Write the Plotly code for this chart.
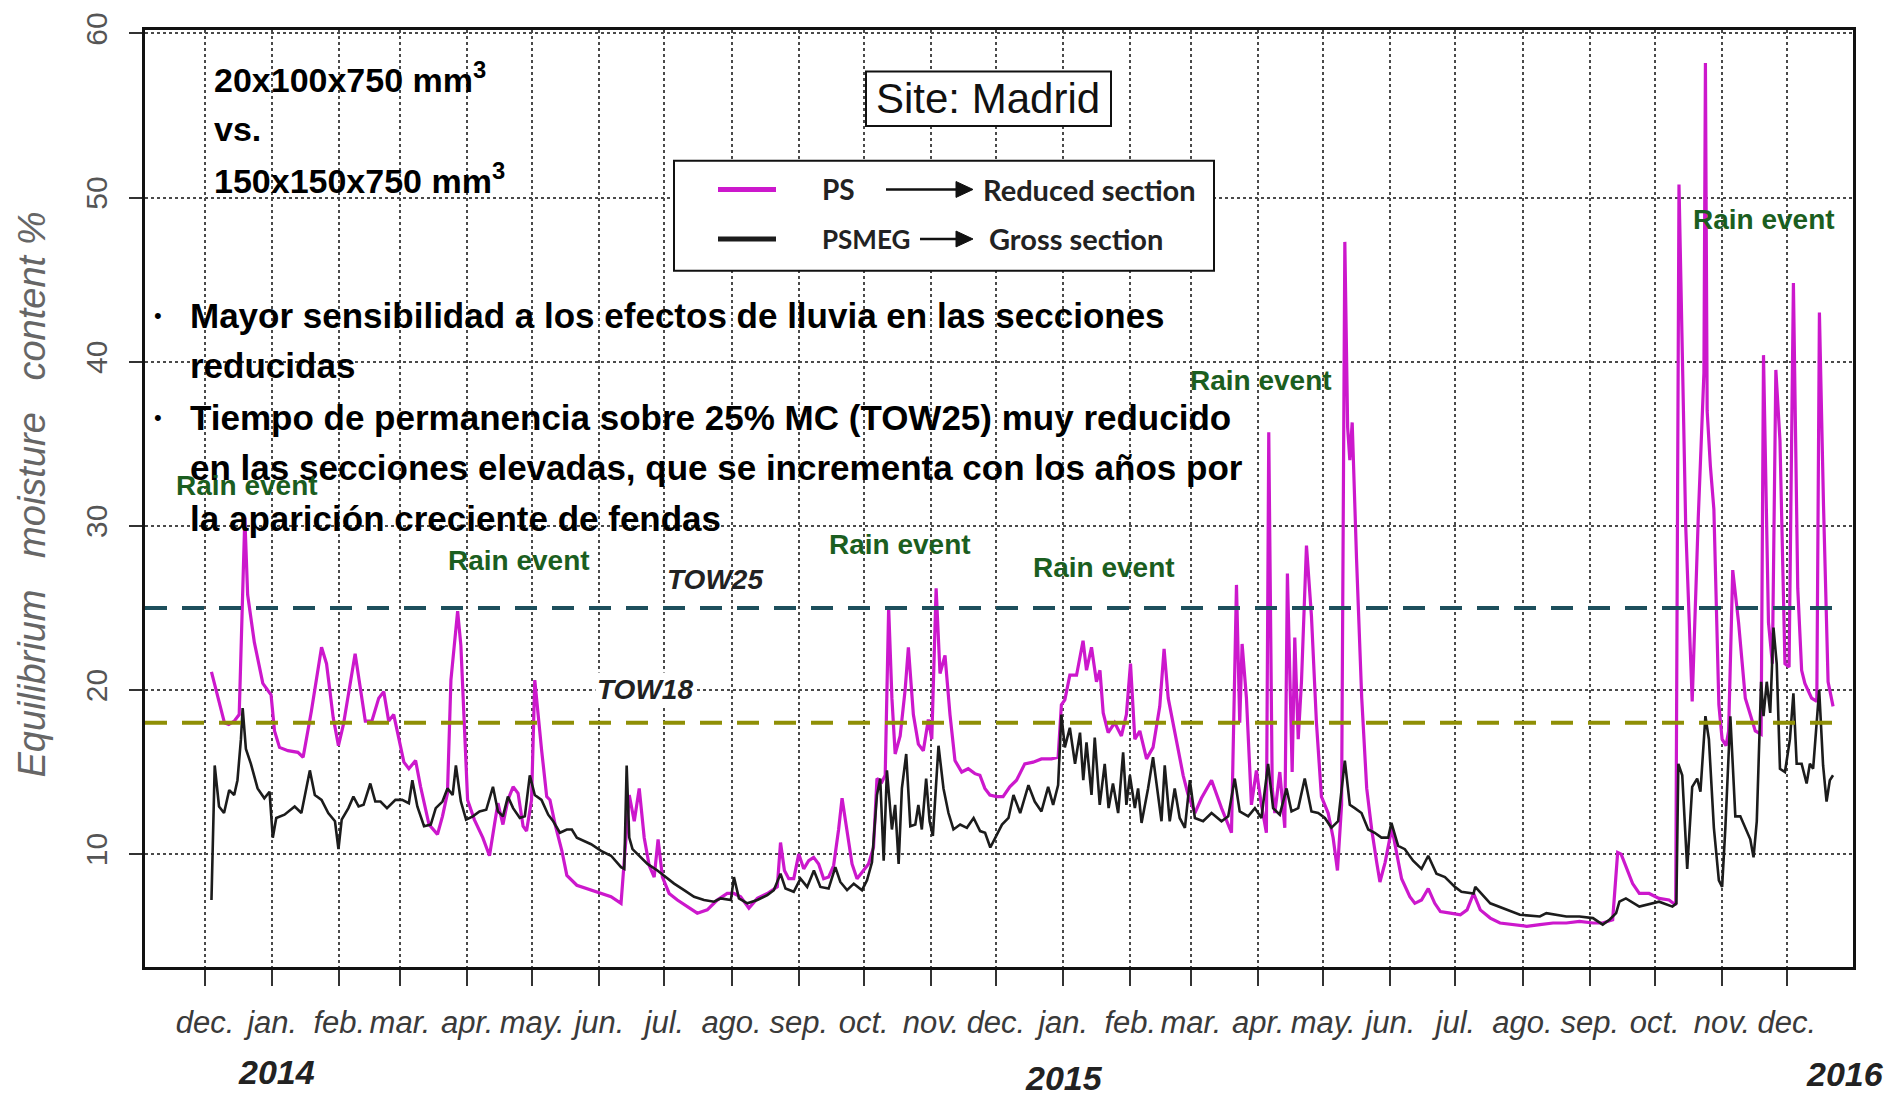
import plotly.graph_objects as go
import pandas as pd

# ---------------- data ----------------
# day offsets counted from 2013-12-01
START = "2013-12-01"

ps_day = [3, 6, 9, 11, 13.5, 15.8, 17.4, 18.4, 19.7, 22.8, 26.7, 30.5, 32.1, 34.4, 38.3, 42.9, 45.3,
          49.1, 53.8, 56.1, 59.2, 61.6, 63.9, 67, 69.3, 71.6, 74, 77, 80.2, 82.5, 84.8, 87.1, 89.5,
          91.8, 94.1, 97.2, 99.5, 103.4, 107.3, 109.6, 111.9, 113.5, 116.6, 118.1, 121.2, 124.3,
          128.2, 131.3, 133.6, 135.2, 137.5, 139.8, 142.2, 144.5, 146.8, 148.4, 150.7, 152.2, 155.3,
          157.7, 159.2, 161.6, 164.7, 167, 171.6, 178.2, 182.8, 187.4, 192, 194.3, 195.8, 198.1,
          200.4, 202.7, 205, 207.3, 209.1, 211.1, 214.2, 218, 222.6, 227.2, 231.8, 236.4, 241,
          244.1, 247.2, 251, 254.9, 259.5, 264.1, 265.6, 267.4, 269.4, 271.7, 274, 276.3, 278.6,
          280.9, 283.2, 285.5, 287.8, 290.1, 292.4, 294, 296.3, 298.6, 300.9, 303.9, 306.2, 308.5,
          310.1, 312.4, 313.9, 315.5, 317, 318.5, 320.8, 323.1, 324.6, 326.9, 329.2, 331.5, 333.8,
          335.4, 336.5, 337.4, 339.2, 341.5, 343.8, 346.1, 349.2, 352.2, 355.3, 357.6, 359.9, 362.2,
          365.3, 368.3, 371.4, 374.5, 378.3, 382.2, 386, 390.6, 393.7, 395.2, 396.8, 399.1, 402.2,
          405.2, 406.8, 409.1, 411.4, 413, 414.5, 416.8, 419.8, 422.9, 425.2, 427.1, 429.1, 431.4,
          434.5, 437.5, 440.6, 442.6, 444.5, 446.8, 449.1, 451.4, 453.7, 456.8, 459.8, 464.5, 469.1,
          473.7, 476, 477.5, 478.6, 480.6, 482.9, 485.2, 487.5, 489.8, 490.9, 492.5, 493.7, 496,
          498.3, 499.5, 501.7, 502.9, 504.5, 506, 508.3, 510.6, 512.9, 515.2, 518.3, 520.6, 522.6,
          524.5, 526, 527.3, 528.3, 529.4, 531.4, 533.8, 536.1, 538.4, 540.7, 542.2, 544.6, 547.7,
          550, 552.2, 556, 558.3, 561.4, 564.5, 567.5, 570.1, 574.7, 579.3, 582.4, 585.4, 588.5,
          593.1, 597.6, 603.8, 609.9, 616, 622.1, 628.2, 634.3, 640.5, 645, 649.6, 651.9, 653.5,
          655.7, 658.8, 661.9, 666.4, 671, 675.6, 678.7, 680.2, 683.3, 686.3, 689.1, 691.7, 692.4,
          693.2, 694.7, 696.3, 698.6, 700.1, 701.9, 703.1, 705, 707.7, 710.8, 715.4, 718.1, 719.2,
          721.5, 723.3, 724.9, 726.8, 729.1, 731, 733, 735, 736.8, 738.3, 741.4, 743.8, 745, 746.9,
          749, 751.3]
ps_val = [21.1, 19.5, 18.0, 17.9, 18.1, 18.5, 27.0, 30.5, 25.8, 22.9, 20.4, 19.7, 17.5, 16.5, 16.3,
          16.2, 15.9, 18.7, 22.6, 21.6, 18.3, 16.6, 17.9, 20.4, 22.2, 20.2, 18.1, 18.1, 19.5, 19.9,
          18.1, 18.5, 17.0, 15.6, 15.2, 15.7, 14.1, 11.8, 11.2, 12.3, 13.7, 20.6, 24.8, 22.7, 13.3,
          12.1, 11.0, 9.9, 11.8, 13.1, 11.8, 13.3, 14.1, 13.7, 11.7, 11.4, 13.3, 20.6, 16.4, 13.5,
          13.3, 11.8, 10.2, 8.7, 8.1, 7.8, 7.6, 7.4, 7.0, 11.0, 13.6, 12.0, 14.0, 11.0, 9.3, 8.6,
          10.9, 8.6, 7.6, 7.2, 6.8, 6.4, 6.6, 7.2, 7.6, 7.6, 7.4, 6.7, 7.3, 7.6, 8.0, 10.7, 9.0, 8.5,
          8.5, 10.0, 9.1, 9.6, 9.8, 9.4, 8.5, 8.6, 9.3, 11.5, 13.4, 11.5, 9.4, 8.5, 9.0, 9.4, 10.4,
          14.6, 14.4, 14.8, 25.0, 19.5, 16.1, 17.2, 20.0, 22.6, 18.5, 16.7, 16.3, 18.2, 17.0, 23.0,
          26.2, 21.0, 22.1, 18.5, 15.7, 15.0, 15.2, 14.9, 14.8, 14.0, 13.6, 13.5, 13.5, 14.1, 14.5,
          15.5, 15.6, 15.8, 15.8, 15.9, 19.1, 19.4, 20.9, 20.9, 23.0, 21.2, 22.6, 20.5, 21.2, 18.6,
          17.4, 18.0, 17.2, 18.5, 21.6, 17.0, 17.5, 15.8, 16.5, 19.0, 22.5, 19.5, 18.0, 16.5, 14.8,
          13.6, 12.5, 13.4, 14.5, 12.8, 11.3, 26.4, 18.0, 22.8, 19.5, 13.0, 15.1, 13.0, 11.3, 35.7,
          14.0, 12.5, 15.0, 11.6, 27.1, 15.0, 23.2, 17.0, 20.5, 28.8, 24.5, 18.0, 13.5, 12.5, 11.0,
          9.0, 13.0, 47.3, 36.0, 34.0, 36.3, 28.0, 19.5, 14.0, 11.5, 9.5, 8.3, 9.5, 11.6, 10.0, 8.5,
          7.4, 7.0, 7.2, 7.9, 7.0, 6.5, 6.4, 6.3, 6.6, 7.6, 6.6, 6.1, 5.8, 5.7, 5.6, 5.7, 5.8, 5.8,
          5.9, 5.8, 5.8, 6.0, 10.1, 10.0, 9.2, 8.2, 7.6, 7.6, 7.3, 7.2, 6.9, 50.8, 30.0, 19.3, 30.5,
          39.3, 58.2, 37.0, 33.6, 31.0, 19.1, 17.0, 16.6, 17.5, 27.3, 24.1, 19.5, 17.5, 17.3, 40.4,
          24.1, 21.6, 39.5, 35.2, 21.6, 21.4, 44.8, 26.2, 21.2, 20.4, 19.5, 19.3, 43.0, 31.2, 20.5,
          19.0]

psmeg_day = [3, 4.5, 6.5, 8.8, 11.2, 13.5, 15, 16.6, 17.4, 18.9, 21.2, 24.3, 27.4, 29.8, 31.3, 32.9,
             36.7, 41.4, 44.5, 47.6, 48.4, 50.7, 53.8, 56.9, 60, 61.6, 63.1, 66.2, 68.5, 70.9, 73.2,
             76.3, 78.6, 81, 84, 87.9, 91, 94.1, 95.7, 98, 101.1, 104.2, 106.5, 109.6, 111.9, 114.3,
             115.8, 118.1, 120.5, 123.6, 126.7, 129.8, 132.9, 135.2, 137.5, 139.8, 142.2, 145.3,
             147.6, 149.9, 152.2, 155.3, 158.4, 160.7, 163.8, 167, 169.3, 171.6, 174.7, 178.2, 182.8,
             187.4, 192, 193.5, 194.6, 195.8, 197.3, 200.4, 204.2, 208.8, 212.7, 216.5, 221.1, 225.7,
             230.3, 234.9, 238, 242.7, 244.1, 246.4, 250.3, 254.9, 259.5, 262.5, 265.6, 267.9, 271.7,
             274.8, 277.9, 281, 284, 287.8, 290.9, 293.2, 296.3, 299.4, 303.2, 305.5, 307.8, 310.1,
             311.6, 313.2, 314.7, 317, 318.5, 320.1, 321.6, 323.6, 325.5, 327.8, 329.2, 330.8, 332.8,
             334.4, 335.9, 338.5, 340.8, 343.1, 345.4, 348.5, 351.6, 354.7, 357.7, 360, 362.4, 364.7,
             367.8, 370.8, 373.1, 376.2, 380, 382.9, 386, 389.1, 391.4, 393.7, 395.2, 396.8, 399.1,
             401.5, 403.8, 405.3, 406.8, 409.1, 410.6, 412.9, 415.2, 417, 419, 421.4, 423.7, 425.2,
             426.8, 429.1, 430.6, 432.2, 435.2, 437.5, 439.8, 441.4, 442.9, 445.2, 447.5, 449.8,
             452.2, 454.5, 456.8, 460.6, 464.5, 469.1, 472.2, 475.2, 477.5, 481.4, 484.5, 487.5,
             490.6, 492.9, 496, 499.1, 501.4, 504.5, 507.5, 510.6, 513.7, 516.8, 519.8, 522.9, 526,
             528.3, 530.6, 533.7, 536.8, 539.8, 542.9, 546, 547.5, 550.6, 553.7, 557.5, 561.4, 564.5,
             568.3, 572.2, 576.8, 579.8, 585.4, 586.2, 593.1, 600.7, 606.8, 616, 619, 628.2, 634.3,
             640.5, 645, 648.1, 651.2, 652.7, 655.7, 661.9, 668, 671, 677.2, 679, 679.9, 681.7, 684,
             686.3, 688.6, 690.1, 692.4, 694, 696.3, 698.6, 700.1, 701.6, 703.9, 706.2, 708.5, 710.8,
             713.1, 714.6, 716.1, 718.1, 719.2, 720.7, 722.3, 723.8, 725.3, 726.8, 729.1, 731.4, 733,
             734.5, 736.8, 739.1, 740.6, 742.1, 743.7, 744.9, 746.7, 748.3, 749.8, 751.3]
psmeg_val = [7.2, 15.4, 12.9, 12.5, 13.9, 13.6, 14.5, 17.0, 18.9, 16.4, 15.5, 14.0, 13.4, 13.8, 11.0,
             12.2, 12.4, 12.9, 12.5, 14.4, 15.1, 13.6, 13.3, 12.5, 12.0, 10.3, 12.1, 12.8, 13.5, 12.9,
             13.0, 14.3, 13.2, 13.2, 12.8, 13.3, 13.3, 13.1, 14.5, 12.9, 11.7, 11.8, 12.8, 13.2, 14.0,
             13.6, 15.4, 13.2, 12.1, 12.3, 12.6, 12.7, 14.1, 12.6, 12.3, 13.5, 12.8, 12.2, 12.3, 14.8,
             13.6, 13.3, 12.4, 12.0, 11.3, 11.5, 11.5, 11.0, 10.8, 10.6, 10.2, 9.9, 9.2, 9.1, 15.4,
             11.0, 10.3, 9.9, 9.4, 9.0, 8.6, 8.2, 7.8, 7.4, 7.2, 7.1, 7.3, 7.2, 8.6, 7.3, 7.0, 7.2,
             7.5, 7.8, 8.8, 7.9, 7.7, 8.5, 8.0, 9.0, 8.0, 7.9, 9.2, 8.3, 7.8, 8.2, 7.8, 8.4, 9.5, 13.6,
             14.6, 9.6, 15.1, 11.5, 13.0, 9.4, 14.0, 16.1, 11.7, 11.8, 13.0, 11.5, 14.6, 12.0, 11.1,
             16.6, 14.0, 12.5, 11.5, 11.8, 11.6, 12.2, 11.4, 11.3, 10.4, 11.0, 11.8, 12.2, 13.6, 12.5,
             14.2, 13.2, 12.6, 14.1, 13.0, 14.2, 18.5, 16.5, 17.7, 15.5, 17.4, 14.5, 16.8, 13.6, 17.1,
             13.0, 15.5, 12.8, 14.3, 12.5, 16.2, 13.0, 14.8, 12.8, 14.0, 11.9, 14.0, 15.9, 13.5, 12.0,
             15.4, 12.0, 14.0, 12.2, 11.6, 14.5, 12.2, 12.0, 12.5, 12.0, 12.3, 14.6, 12.6, 12.3, 12.8,
             12.2, 15.5, 12.8, 12.4, 14.0, 12.6, 12.8, 14.6, 12.6, 12.5, 12.2, 11.6, 12.0, 15.7, 13.0,
             12.8, 12.5, 11.5, 11.3, 11.0, 11.0, 11.9, 10.5, 10.3, 9.6, 9.1, 9.9, 8.8, 8.6, 8.0, 7.7,
             7.6, 8.0, 7.0, 6.6, 6.3, 6.2, 6.4, 6.2, 6.2, 6.1, 5.7, 6.0, 6.4, 7.1, 7.3, 6.8, 7.0, 7.1,
             6.8, 7.0, 15.5, 14.8, 9.1, 14.1, 14.6, 13.8, 18.4, 17.0, 11.6, 8.4, 8.0, 11.6, 18.4, 12.3,
             12.3, 11.6, 10.9, 9.8, 12.0, 20.5, 18.4, 20.5, 18.6, 23.8, 21.6, 15.2, 15.0, 17.0, 19.8,
             15.5, 15.5, 14.3, 15.5, 15.2, 17.7, 20.0, 15.4, 13.2, 14.5, 14.8]

tick_dates = ["2013-12-01", "2014-01-01", "2014-02-01", "2014-03-01", "2014-04-01", "2014-05-01",
              "2014-06-01", "2014-07-01", "2014-08-01", "2014-09-01", "2014-10-01", "2014-11-01",
              "2014-12-01", "2015-01-01", "2015-02-01", "2015-03-01", "2015-04-01", "2015-05-01",
              "2015-06-01", "2015-07-01", "2015-08-01", "2015-09-01", "2015-10-01", "2015-11-01",
              "2015-12-01"]
tick_labels = ["dec.", "jan.", "feb.", "mar.", "apr.", "may.", "jun.", "jul.", "ago.", "sep.", "oct.",
               "nov.", "dec.", "jan.", "feb.", "mar.", "apr.", "may.", "jun.", "jul.", "ago.", "sep.",
               "oct.", "nov.", "dec."]
y_ticks = [10, 20, 30, 40, 50, 60]
tow_levels = [25, 18]
tow_names = ["TOW25", "TOW18"]
year_labels = ["2014", "2015", "2016"]

X_RANGE = ["2013-11-03 08:00", "2015-12-31 12:00"]
Y_RANGE = [3.12, 60.21]

# ---------------- helpers ----------------
W, H = 1901, 1097
L, R, T, B = 145, 48, 21, 130
PW, PH = W - L - R, H - T - B


def px(x):
    return (x - L) / PW


def py(y):
    return (H - B - y) / PH


def to_dates(days):
    s = pd.Timestamp(START)
    return [s + pd.Timedelta(days=d) for d in days]


SANS = "Liberation Sans, Arial, sans-serif"


def note(text, x, y, size, color="#000", family=SANS, xanchor="center", **kw):
    return dict(text=text, xref="paper", yref="paper", x=px(x), y=py(y), xanchor=xanchor,
                yanchor="middle", showarrow=False, font=dict(family=family, size=size, color=color),
                **kw)


fig = go.Figure()
fig.add_trace(go.Scatter(x=to_dates(ps_day), y=ps_val, mode="lines", name="PS",
                         line=dict(color="#cc18cc", width=3.2)))
fig.add_trace(go.Scatter(x=to_dates(psmeg_day), y=psmeg_val, mode="lines", name="PSMEG",
                         line=dict(color="#1c1c1c", width=2.6)))

tow_colors = ["#1d4f5c", "#8f8f05"]
for lvl, col in zip(tow_levels, tow_colors):
    fig.add_trace(go.Scatter(x=[X_RANGE[0], "2015-12-27"], y=[lvl, lvl], mode="lines",
                             line=dict(color=col, width=4, dash="22px,15px"), hoverinfo="skip"))

shapes = []
annotations = []

# Site box
shapes.append(dict(type="rect", xref="paper", yref="paper", x0=px(866), x1=px(1111),
                   y0=py(118), y1=py(63), fillcolor="white", line=dict(color="#111", width=2),
                   layer="above"))
annotations.append(note("Site: Madrid", 988, 90, 42, "#111"))

# Legend box
shapes.append(dict(type="rect", xref="paper", yref="paper", x0=px(674), x1=px(1214),
                   y0=py(264), y1=py(153), fillcolor="white", line=dict(color="#111", width=2),
                   layer="above"))
legend_rows = [("PS", "Reduced section", "#cc18cc", 182, 886, 981, 28),
               ("PSMEG", "Gross section", "#1c1c1c", 232, 920, 987, 26)]
for name, desc, col, yy, ax0, tx, fs in legend_rows:
    shapes.append(dict(type="line", xref="paper", yref="paper", x0=px(718), x1=px(776),
                       y0=py(yy), y1=py(yy), line=dict(color=col, width=5), layer="above"))
    shapes.append(dict(type="line", xref="paper", yref="paper", x0=px(ax0), x1=px(960),
                       y0=py(yy), y1=py(yy), line=dict(color="#111", width=2.5), layer="above"))
    shapes.append(dict(type="path", xref="paper", yref="paper",
                       path=f"M {px(956)},{py(yy - 8)} L {px(973)},{py(yy)} L {px(956)},{py(yy + 8)} Z",
                       fillcolor="#111", line=dict(color="#111", width=1), layer="above"))
    annotations.append(note(f"<b>{name}</b>", 820, yy, fs, "#222", "Lato, sans-serif", "left"))
    annotations.append(note(f"<b>{desc}</b>", tx, yy, 29, "#222", "Lato, sans-serif", "left"))

# Section sizes text
for txt, yy in [("20x100x750 mm<sup>3</sup>", 69), ("vs.", 121), ("150x150x750 mm<sup>3</sup>", 171)]:
    annotations.append(note(f"<b>{txt}</b>", 212, yy, 34, "#000", SANS, "left"))

# Bullet text
bullet_lines = ["Mayor sensibilidad a los efectos de lluvia en las secciones",
                "reducidas",
                "Tiempo de permanencia sobre 25% MC (TOW25) muy reducido",
                "en las secciones elevadas, que se incrementa con los años por",
                "la aparición creciente de fendas"]
bullet_y = [309, 360, 412, 463, 514]
for txt, yy in zip(bullet_lines, bullet_y):
    annotations.append(note(f"<b>{txt}</b>", 188, yy, 35, "#000", SANS, "left"))
for yy in [bullet_y[0], bullet_y[2]]:
    annotations.append(note("•", 158, yy, 22, "#000"))

# Rain events
for xx, yy in [(247, 481), (519, 557), (900, 540), (1104, 564), (1261, 375), (1764, 212)]:
    annotations.append(note("<b>Rain event</b>", xx, yy, 28, "#1b5e20"))

# TOW labels
annotations.append(note("<b><i>TOW25</i></b>", 715, 576, 28, "#222"))
annotations.append(note("<b><i>TOW18</i></b>", 645, 687, 28, "#222", bgcolor="white"))

# Year labels
for txt, xx, yy in zip(year_labels, [276, 1064, 1845], [1073, 1079, 1075]):
    annotations.append(note(f"<b><i>{txt}</i></b>", xx, yy, 34, "#222"))

# Y title
annotations.append(note("<i>Equilibrium&nbsp;&nbsp; moisture&nbsp;&nbsp; content %</i>", 32, 490, 38,
                        "#666", textangle=-90))

fig.update_layout(
    width=W, height=H,
    margin=dict(l=L, r=R, t=T, b=B),
    paper_bgcolor="white", plot_bgcolor="white",
    showlegend=False,
    shapes=shapes, annotations=annotations,
    xaxis=dict(type="date", range=X_RANGE, tickmode="array", tickvals=tick_dates,
               ticktext=tick_labels, ticks="outside", ticklen=16, tickwidth=2, tickcolor="#333",
               showgrid=True, gridcolor="#4a4a4a", griddash="dot", gridwidth=1.5,
               showline=True, linecolor="#111", linewidth=2.5, mirror=True, zeroline=False,
               ticklabelstandoff=10,
               tickfont=dict(family=SANS, size=31, color="#3a3a3a", style="italic")),
    yaxis=dict(range=Y_RANGE, tickmode="array", tickvals=y_ticks, ticks="outside", ticklen=13,
               tickwidth=2, tickcolor="#333", tickangle=-90,
               showgrid=True, gridcolor="#4a4a4a", griddash="dot", gridwidth=1.5,
               showline=True, linecolor="#111", linewidth=2.5, mirror=True, zeroline=False,
               ticklabelstandoff=10,
               tickfont=dict(family=SANS, size=30, color="#555")),
)

fig.write_html("out.html")
